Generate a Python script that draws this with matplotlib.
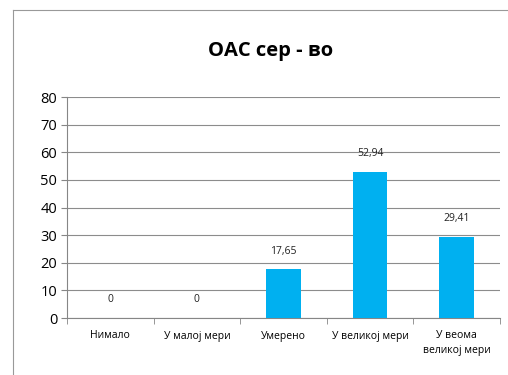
import matplotlib.pyplot as plt
from matplotlib.lines import Line2D
import numpy as np

plt.rcParams['font.family'] = ['Open Sans', 'DejaVu Sans']

# Chart data
categories = ['Нимало', 'У малој мери', 'Умерено', 'У великој мери', 'У веома\nвеликој мери']
values = [0, 0, 17.65, 52.94, 29.41]
value_labels = ['0', '0', '17,65', '52,94', '29,41']
title = 'ОАС сер - во'

fig = plt.figure(figsize=(5.08, 3.75), dpi=100)
ax = fig.add_axes([0.132, 0.152, 0.852, 0.589])

x = np.arange(len(categories))
ax.bar(x, values, width=0.4, color='#00B0F0', zorder=3)

for xi, v, lab in zip(x, values, value_labels):
    ax.annotate(lab, (xi, v), xytext=(0, 9), textcoords='offset points',
                ha='center', va='bottom', fontsize=7.5, color='#222222')

ax.set_xlim(-0.5, len(categories) - 0.5)
ax.set_ylim(0, 80)
ax.set_yticks(range(0, 81, 10))
ax.tick_params(axis='y', labelsize=10.5, length=4, color='#868686', pad=3)
ax.yaxis.grid(True, color='#8c8c8c', linewidth=0.8, zorder=0)

# category labels without ticks, ticks at boundaries
ax.set_xticks(x)
ax.set_xticklabels(categories, fontsize=7.5, linespacing=1.4)
ax.tick_params(axis='x', length=0, pad=9)
ax.set_xticks(np.arange(-0.5, len(categories), 1), minor=True)
ax.tick_params(axis='x', which='minor', length=4, color='#868686')

for side in ['top', 'right']:
    ax.spines[side].set_visible(False)
for side in ['left', 'bottom']:
    ax.spines[side].set_color('#868686')
    ax.spines[side].set_linewidth(0.8)

fig.text(0.532, 0.865, title, ha='center', va='center', fontsize=14.5, fontweight='bold')

# outer chart border (left and top edges)
fig.add_artist(Line2D([13 / 508, 13 / 508], [0, 1 - 10 / 375], color='#999999', linewidth=0.8))
fig.add_artist(Line2D([13 / 508, 1], [1 - 10 / 375, 1 - 10 / 375], color='#999999', linewidth=0.8))

fig.savefig('out.png', dpi=100)
